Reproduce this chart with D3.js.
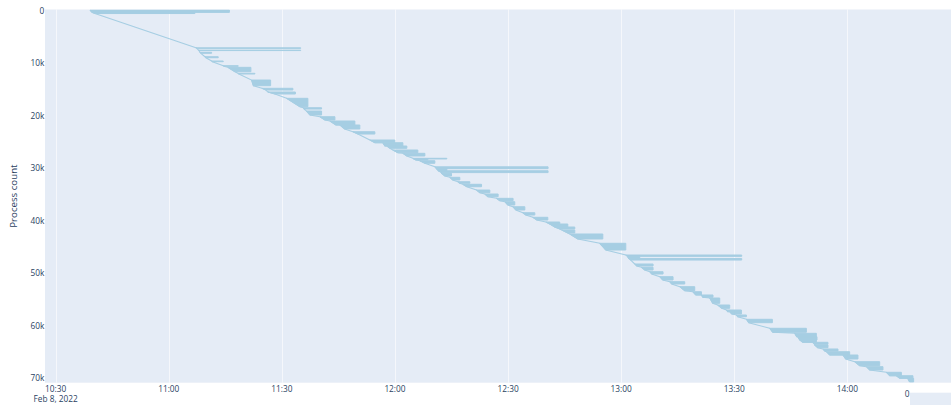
<!DOCTYPE html>
<html>
<head>
<meta charset="utf-8">
<script src="https://cdn.jsdelivr.net/npm/d3@7"></script>
<style>
  html, body { margin: 0; padding: 0; background: #ffffff; }
  svg { display: block; font-family: "Open Sans", "Liberation Sans", Arial, sans-serif; }
</style>
</head>
<body>
<svg id="chart" width="951" height="405"></svg>
<script>
// Process groups: each group is a run of processes (count range) whose start
// times sweep from startFrom to startTo and which all finish around `end`.
const groupCountFrom = [
  0, 450, 7200, 7640, 8050, 8890, 9710, 10600, 10910, 12050,
  13330, 14900, 15610, 16810, 18600, 19230, 20310, 21130, 21890, 23170,
  24750, 25260, 25890, 26650, 27280, 28230, 28350, 28690, 29850, 30200,
  30600, 31090, 31850, 32690, 33180, 34270, 35030, 35850, 36490, 37450,
  38590, 39460, 40360, 40740, 41310, 41880, 42640, 44410, 46640, 46900,
  47300, 48350, 48980, 49820, 50770, 51720, 52670, 53630, 54250, 54830,
  56160, 57110, 57430, 58060, 58880, 60590, 61550, 62190, 62820, 63260,
  63770, 64530, 65050, 65680, 66950, 67900, 68970, 69620, 70110
];
const groupCountTo = [
  450, 670, 7300, 7720, 8240, 9080, 9840, 10720, 11750, 12180,
  14410, 15230, 15990, 18410, 18850, 19990, 20940, 21890, 22650, 23610,
  25260, 25890, 26330, 27170, 27790, 28350, 28560, 29180, 30200, 30600,
  30950, 31600, 32360, 32990, 33640, 34780, 35540, 36300, 37120, 38070,
  39030, 39980, 40740, 41310, 41690, 42450, 43590, 45690, 46900, 47300,
  47600, 48730, 49500, 50260, 51400, 52160, 53440, 54250, 54690, 55840,
  56790, 57430, 57870, 58390, 59530, 61360, 62190, 62820, 63260, 63640,
  64290, 64920, 65680, 66440, 67710, 68530, 69620, 70110, 70820
];
const groupStartFrom = [
  "10:39:06", "10:39:38", "11:07:12", "11:07:52", "11:08:16", "11:09:35", "11:11:22", "11:14:27", "11:15:41", "11:18:20",
  "11:21:58", "11:24:42", "11:26:18", "11:31:15", "11:35:40", "11:36:33", "11:40:05", "11:42:44", "11:45:23", "11:48:50",
  "11:53:20", "11:56:47", "11:57:51", "11:59:26", "12:02:06", "12:04:45", "12:05:01", "12:06:36", "12:10:35", "12:11:00",
  "12:11:30", "12:12:21", "12:14:33", "12:16:41", "12:18:00", "12:21:38", "12:23:50", "12:26:56", "12:29:08", "12:31:16",
  "12:33:55", "12:36:34", "12:40:01", "12:41:04", "12:42:24", "12:44:15", "12:46:22", "12:54:20", "13:01:14", "13:01:40",
  "13:02:01", "13:03:37", "13:05:23", "13:07:35", "13:10:14", "13:12:53", "13:15:33", "13:18:59", "13:21:18", "13:23:30",
  "13:25:37", "13:27:56", "13:28:48", "13:30:35", "13:33:14", "13:39:24", "13:46:02", "13:46:50", "13:47:22", "13:50:49",
  "13:51:20", "13:53:32", "13:54:27", "13:58:51", "14:01:57", "14:05:03", "14:10:21", "14:13:00", "14:16:00"
];
const groupStartTo = [
  "10:39:38", "10:40:25", "11:07:28", "11:08:00", "11:08:32", "11:09:51", "11:11:35", "11:14:38", "11:17:33", "11:18:36",
  "11:22:27", "11:25:46", "11:28:10", "11:34:47", "11:35:55", "11:37:26", "11:41:25", "11:44:20", "11:46:40", "11:50:10",
  "11:54:40", "11:57:19", "11:58:40", "12:00:46", "12:03:09", "12:05:01", "12:05:33", "12:07:56", "12:11:00", "12:11:30",
  "12:12:21", "12:13:14", "12:15:20", "12:17:12", "12:19:04", "12:22:30", "12:24:38", "12:27:48", "12:29:56", "12:32:04",
  "12:34:43", "12:37:38", "12:41:04", "12:42:24", "12:43:43", "12:45:51", "12:48:30", "12:55:55", "13:01:40", "13:02:01",
  "13:02:33", "13:04:09", "13:06:16", "13:08:07", "13:11:02", "13:13:25", "13:16:52", "13:19:47", "13:21:39", "13:24:18",
  "13:26:41", "13:28:16", "13:29:20", "13:30:55", "13:33:51", "13:40:12", "13:46:34", "13:47:22", "13:48:09", "13:51:20",
  "13:52:08", "13:53:59", "13:55:19", "13:59:34", "14:03:16", "14:05:56", "14:11:14", "14:13:53", "14:16:32"
];
const groupEnd = [
  "11:16:05", "11:06:56", "11:35:00", "11:35:00", "11:11:22", "11:13:07", "11:14:27", "11:18:25", "11:21:47", "11:22:51",
  "11:27:01", "11:32:55", "11:33:35", "11:36:54", "11:40:32", "11:40:32", "11:44:04", "11:49:22", "11:50:41", "11:54:40",
  "11:59:58", "12:02:06", "12:03:09", "12:06:04", "12:07:56", "12:13:46", "12:08:43", "12:10:35", "12:40:37", "12:13:46",
  "12:40:37", "12:15:00", "12:17:12", "12:19:52", "12:22:58", "12:25:10", "12:27:22", "12:31:20", "12:31:47", "12:34:27",
  "12:37:06", "12:40:33", "12:43:43", "12:45:51", "12:47:42", "12:47:42", "12:55:08", "13:01:14", "13:31:59", "13:04:56",
  "13:31:59", "13:08:28", "13:08:28", "13:11:07", "13:13:46", "13:16:52", "13:19:31", "13:21:18", "13:24:22", "13:26:09",
  "13:28:48", "13:31:54", "13:31:54", "13:33:14", "13:40:07", "13:49:08", "13:51:47", "13:51:57", "13:51:47", "13:54:52",
  "13:54:52", "13:57:31", "14:00:37", "14:02:49", "14:08:35", "14:09:27", "14:14:20", "14:17:24", "14:17:35"
];

const day = "2022-02-08";
const xRange = ["10:27:10", "14:27:30"];
const yRange = [-100, 70950];
const xTickTimes = ["10:30", "11:00", "11:30", "12:00", "12:30", "13:00", "13:30", "14:00"];
const yTickValues = [0, 10000, 20000, 30000, 40000, 50000, 60000, 70000];
const yTitle = "Process count";
const dateLabel = "Feb 8, 2022";

const parse = d3.timeParse("%Y-%m-%d %H:%M:%S");
const at = t => parse(`${day} ${t.length === 5 ? t + ":00" : t}`);

const groups = groupCountFrom.map((c0, i) => ({
  c0, c1: groupCountTo[i],
  s0: at(groupStartFrom[i]), s1: at(groupStartTo[i]), e: at(groupEnd[i])
}));

const svg = d3.select("#chart");
const plot = { left: 45, top: 9.5, right: 951, bottom: 382.7 };
const ink = "#2a3f5f";
const lineColor = "#a6cee3";

const x = d3.scaleTime().domain(xRange.map(at)).range([plot.left, plot.right]);
const y = d3.scaleLinear().domain(yRange).range([plot.top, plot.bottom]);

// background
svg.append("rect")
  .attr("x", plot.left).attr("y", plot.top)
  .attr("width", plot.right - plot.left).attr("height", plot.bottom - plot.top)
  .attr("fill", "#e5ecf6");

// vertical grid
const xTicks = xTickTimes.map(at);
svg.append("g").selectAll("line").data(xTicks).join("line")
  .attr("x1", d => Math.round(x(d)) + 0.5).attr("x2", d => Math.round(x(d)) + 0.5)
  .attr("y1", plot.top).attr("y2", plot.bottom)
  .attr("stroke", "#ffffff").attr("stroke-width", 0.8).attr("stroke-opacity", 0.75);

svg.append("clipPath").attr("id", "plotclip")
  .append("rect").attr("x", plot.left).attr("y", plot.top)
  .attr("width", plot.right - plot.left).attr("height", plot.bottom - plot.top);

const marks = svg.append("g").attr("clip-path", "url(#plotclip)");

// start-time front: the start of every process in count order
const frontPts = [];
groups.forEach(g => { frontPts.push([g.s0, g.c0]); frontPts.push([g.s1, g.c1]); });
marks.append("path")
  .attr("d", d3.line().x(d => x(d[0])).y(d => y(d[1]))(frontPts))
  .attr("fill", "none").attr("stroke", lineColor).attr("stroke-width", 1.1);

// each group: start edge along the front, finishing edge at the group's end
marks.append("g").selectAll("path").data(groups).join("path")
  .attr("d", g => {
    const p = d3.path();
    p.moveTo(x(g.s0), y(g.c0));
    p.lineTo(x(g.e), y(g.c0));
    p.lineTo(x(g.e), y(g.c1));
    p.lineTo(x(g.s1), y(g.c1));
    p.closePath();
    return p.toString();
  })
  .attr("fill", lineColor).attr("stroke", lineColor)
  .attr("stroke-width", 1.0).attr("stroke-linejoin", "miter");

// x tick labels
const fmtTime = d3.timeFormat("%H:%M");
svg.append("g").selectAll("text").data(xTicks).join("text")
  .attr("x", d => x(d)).attr("y", 388)
  .attr("text-anchor", "middle").attr("dominant-baseline", "central")
  .attr("font-size", 8.3).attr("fill", ink)
  .text(d => fmtTime(d));
svg.append("text")
  .attr("x", x(xTicks[0])).attr("y", 398)
  .attr("text-anchor", "middle").attr("dominant-baseline", "central")
  .attr("font-size", 8.3).attr("fill", ink)
  .text(dateLabel);

// y tick labels
const fmtCount = d3.format("~s");
svg.append("g").selectAll("text").data(yTickValues).join("text")
  .attr("x", 44.3).attr("y", d => y(d))
  .attr("text-anchor", "end").attr("dominant-baseline", "central")
  .attr("font-size", 8.3).attr("fill", ink)
  .text(d => fmtCount(d));

// y title
svg.append("text")
  .attr("transform", `translate(13.5, ${(plot.top + plot.bottom) / 2}) rotate(-90)`)
  .attr("text-anchor", "middle").attr("dominant-baseline", "central")
  .attr("font-size", 9.7).attr("fill", ink)
  .text(yTitle);

// neighbouring panel corner at bottom right
svg.append("rect")
  .attr("x", 910).attr("y", 392.7).attr("width", 41).attr("height", 12.3)
  .attr("fill", "#e5ecf6");
svg.append("text")
  .attr("x", 909.5).attr("y", 393.3)
  .attr("text-anchor", "end").attr("dominant-baseline", "central")
  .attr("font-size", 8.3).attr("fill", ink)
  .text("0");
</script>
</body>
</html>
